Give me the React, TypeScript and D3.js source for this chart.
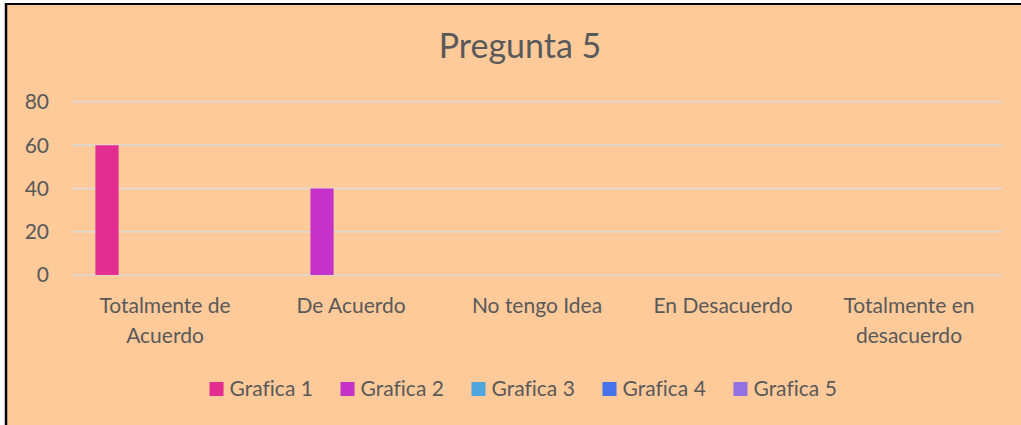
import * as d3 from "d3";
import { useEffect, useRef } from "react";

const title = "Pregunta 5";
const categories = [
  "Totalmente de Acuerdo",
  "De Acuerdo",
  "No tengo Idea",
  "En Desacuerdo",
  "Totalmente en desacuerdo",
];
const seriesNames = ["Grafica 1", "Grafica 2", "Grafica 3", "Grafica 4", "Grafica 5"];
const seriesColors = ["#E32D91", "#C532C8", "#4FA5DE", "#4672EA", "#9272E2"];
// one value per category, per series
const grafica1 = [60, 0, 0, 0, 0];
const grafica2 = [0, 40, 0, 0, 0];
const grafica3 = [0, 0, 0, 0, 0];
const grafica4 = [0, 0, 0, 0, 0];
const grafica5 = [0, 0, 0, 0, 0];
const yTicks = [0, 20, 40, 60, 80];

const allSeries = [grafica1, grafica2, grafica3, grafica4, grafica5];

export default function App() {
  const svgRef = useRef<SVGSVGElement | null>(null);
  const width = 1021;
  const height = 425;
  const marginLeft = 72;
  const marginRight = 19;
  const plotTop = 102;
  const plotBottom = 275;
  const font = "Lato, 'Open Sans', sans-serif";
  const textColor = "#595959";

  useEffect(() => {
    const svg = d3.select(svgRef.current);
    svg.selectAll("*").remove();

    // background + border (left and top only, as in the screenshot)
    svg.append("rect").attr("x", 0).attr("y", 0).attr("width", width).attr("height", height).attr("fill", "#ffffff");
    svg.append("rect").attr("x", 5).attr("y", 3).attr("width", width - 5).attr("height", height - 3).attr("fill", "#FFCA99");
    svg.append("line").attr("x1", 6).attr("x2", 6).attr("y1", 3).attr("y2", height).attr("stroke", "#000").attr("stroke-width", 2.5);
    svg.append("line").attr("x1", 5).attr("x2", width).attr("y1", 4).attr("y2", 4).attr("stroke", "#000").attr("stroke-width", 2);

    const x0 = d3.scaleBand<string>()
      .domain(categories)
      .range([marginLeft, width - marginRight])
      .padding(0);

    const x1 = d3.scaleBand<string>()
      .domain(seriesNames)
      .range([0, x0.bandwidth()])
      .paddingInner(0.2)
      .paddingOuter(0.807);

    const y = d3.scaleLinear().domain([0, 80]).range([plotBottom, plotTop]);

    // title
    svg.append("text")
      .attr("x", 520)
      .attr("y", 58)
      .attr("text-anchor", "middle")
      .attr("font-family", font)
      .attr("font-size", 34)
      .attr("fill", textColor)
      .text(title);

    // gridlines
    svg.append("g")
      .selectAll("line")
      .data(yTicks)
      .join("line")
      .attr("x1", marginLeft)
      .attr("x2", width - marginRight)
      .attr("y1", d => y(d))
      .attr("y2", d => y(d))
      .attr("stroke", "#D9D9D9")
      .attr("stroke-width", 1.5);

    // y tick labels
    svg.append("g")
      .selectAll("text")
      .data(yTicks)
      .join("text")
      .attr("x", 49)
      .attr("y", d => y(d))
      .attr("dy", "0.35em")
      .attr("text-anchor", "end")
      .attr("font-family", font)
      .attr("font-size", 21)
      .attr("fill", textColor)
      .text(d => d);

    // bars
    const bars = allSeries.flatMap((vals, si) =>
      vals.map((v, ci) => ({ s: seriesNames[si], c: categories[ci], v, color: seriesColors[si] }))
    ).filter(d => d.v > 0);

    svg.append("g")
      .selectAll("rect")
      .data(bars)
      .join("rect")
      .attr("x", d => (x0(d.c) ?? 0) + (x1(d.s) ?? 0))
      .attr("y", d => y(d.v))
      .attr("width", x1.bandwidth())
      .attr("height", d => y(0) - y(d.v))
      .attr("fill", d => d.color);

    // category labels with word wrap
    const maxW = x0.bandwidth() - 30;
    const labels = svg.append("g")
      .selectAll("text")
      .data(categories)
      .join("text")
      .attr("x", d => (x0(d) ?? 0) + x0.bandwidth() / 2)
      .attr("y", 313)
      .attr("text-anchor", "middle")
      .attr("font-family", font)
      .attr("font-size", 21)
      .attr("fill", textColor);

    labels.each(function (d) {
      const t = d3.select(this);
      const words = d.split(" ");
      let line: string[] = [];
      let tspan = t.append("tspan").attr("x", t.attr("x")).attr("dy", 0);
      for (const w of words) {
        line.push(w);
        tspan.text(line.join(" "));
        if ((tspan.node() as SVGTSpanElement).getComputedTextLength() > maxW && line.length > 1) {
          line.pop();
          tspan.text(line.join(" "));
          line = [w];
          tspan = t.append("tspan").attr("x", t.attr("x")).attr("dy", 30).text(w);
        }
      }
    });

    // legend
    const legend = svg.append("g");
    const items = legend.selectAll("g")
      .data(seriesNames)
      .join("g");
    items.append("rect")
      .attr("width", 14)
      .attr("height", 14)
      .attr("y", 382)
      .attr("fill", (_, i) => seriesColors[i]);
    items.append("text")
      .attr("x", 20)
      .attr("y", 396)
      .attr("font-family", font)
      .attr("font-size", 21)
      .attr("fill", textColor)
      .text(d => d);
    let xPos = 0;
    const offsets: number[] = [];
    items.each(function () {
      offsets.push(xPos);
      const tw = (d3.select(this).select("text").node() as SVGTextElement).getComputedTextLength();
      xPos += 20 + tw + 28;
    });
    const total = xPos - 28;
    const start = 523 - total / 2;
    items.attr("transform", (_, i) => `translate(${start + offsets[i]},0)`);

    // no "fi" ligatures, like the original
    svg.selectAll("text")
      .style("font-variant-ligatures", "none")
      .style("font-feature-settings", "'liga' 0, 'clig' 0");
  }, []);

  return (
    <svg
      ref={svgRef}
      width={width}
      height={height}
      style={{ position: "absolute", left: 0, top: 0, display: "block" }}
    />
  );
}
